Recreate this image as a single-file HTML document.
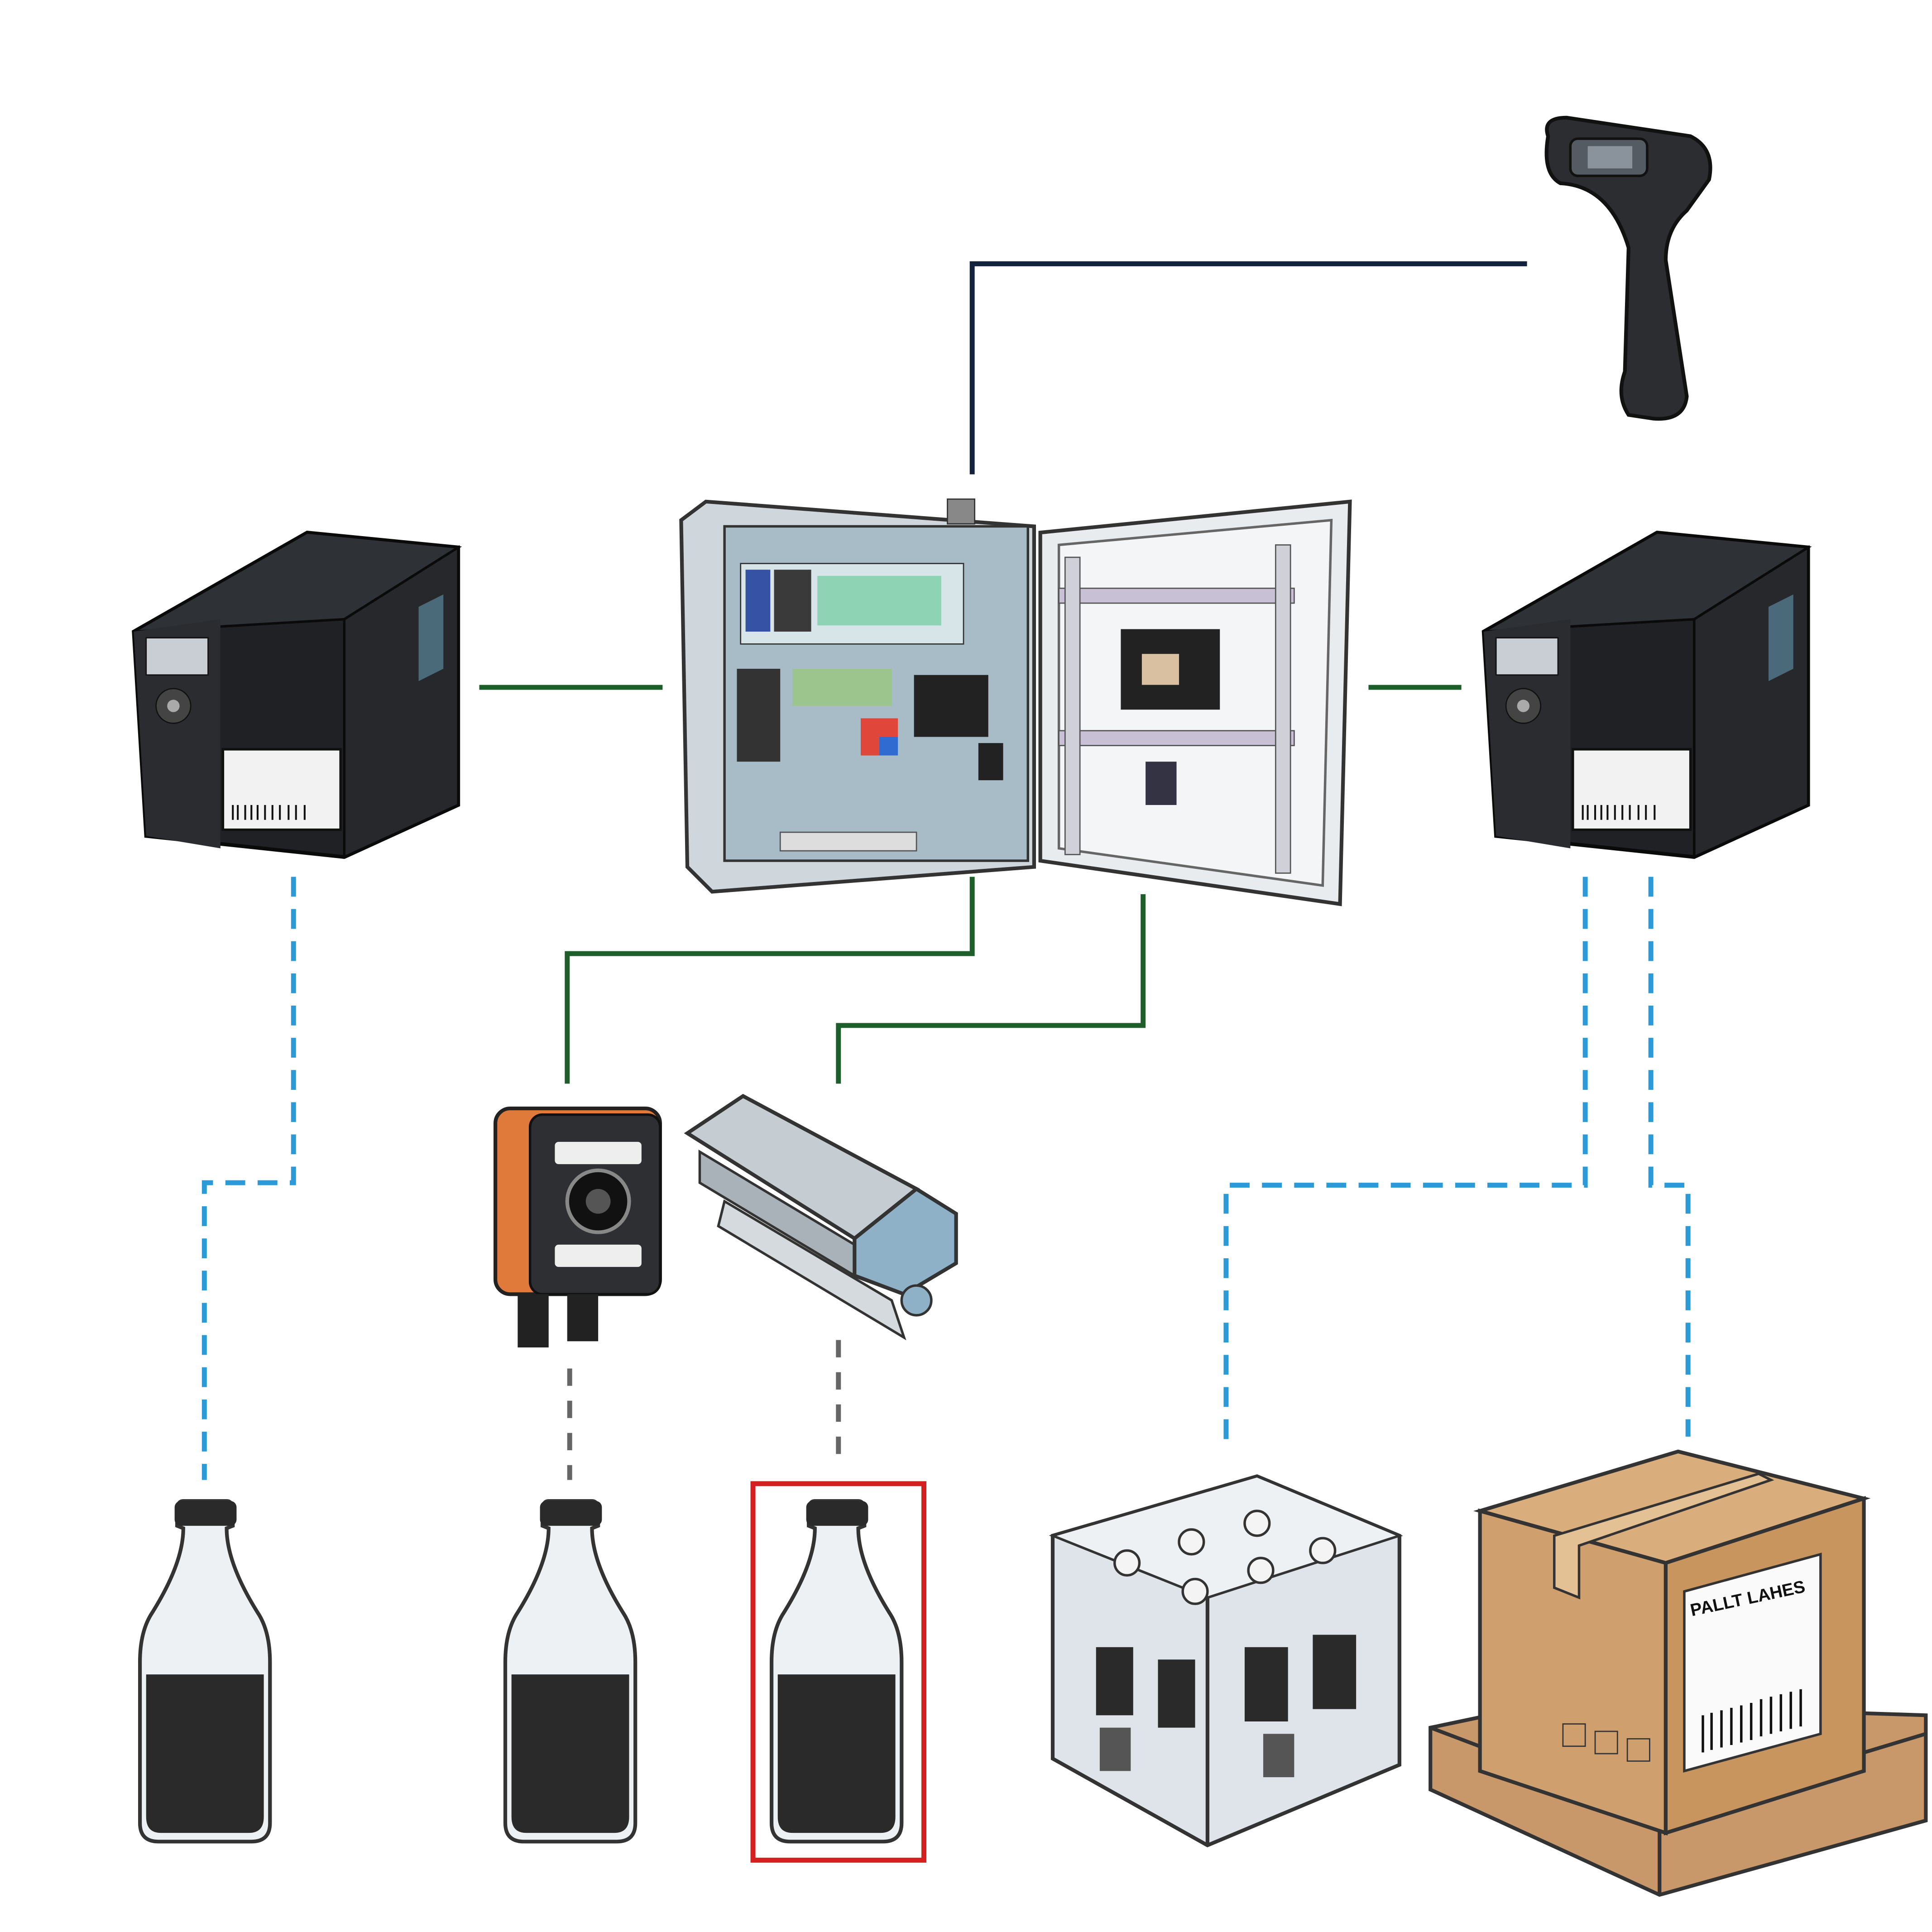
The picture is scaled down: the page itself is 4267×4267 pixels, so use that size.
<!DOCTYPE html>
<html><head><meta charset="utf-8"><style>
html,body{margin:0;padding:0;background:#fff;}
svg{display:block;}
</style></head><body>
<svg width="4267" height="4267" viewBox="0 0 1560 1560" xmlns="http://www.w3.org/2000/svg" font-family="Liberation Sans, sans-serif">
<rect width="1560" height="1560" fill="#fff"/>

<!-- connectors -->
<polyline points="785,383 785,213 1233,213" fill="none" stroke="#13233d" stroke-width="4"/>
<line x1="387" y1="555" x2="535" y2="555" stroke="#1d5e2a" stroke-width="4"/>
<line x1="1105" y1="555" x2="1180" y2="555" stroke="#1d5e2a" stroke-width="4"/>
<polyline points="785,708 785,770 458,770 458,875" fill="none" stroke="#1d5e2a" stroke-width="4"/>
<polyline points="923,722 923,828 677,828 677,875" fill="none" stroke="#1d5e2a" stroke-width="4"/>
<g fill="none" stroke="#2b9ad6" stroke-width="4" stroke-dasharray="16,10">
<polyline points="237,708 237,955 165,955 165,1195"/>
<polyline points="1280,708 1280,957 990,957 990,1165"/>
<polyline points="1333,708 1333,957 1363,957 1363,1160"/>
</g>
<g fill="none" stroke="#666" stroke-width="4" stroke-dasharray="14,12">
<line x1="460" y1="1105" x2="460" y2="1195"/>
<line x1="677" y1="1082" x2="677" y2="1185"/>
</g>

<!-- scanner -->
<g>
<path d="M1250,110 Q1245,95 1265,95 L1365,110 Q1385,120 1380,145 L1362,170 Q1345,185 1345,210 L1362,320 Q1360,340 1335,338 L1315,335 Q1305,320 1312,300 L1315,200 Q1300,150 1260,148 Q1245,140 1250,110 Z" fill="#2b2d31" stroke="#111" stroke-width="3"/>
<rect x="1268" y="112" width="62" height="30" rx="6" fill="#555b63" stroke="#111" stroke-width="2"/>
<rect x="1282" y="118" width="36" height="18" fill="#8a929b"/>
</g>

<!-- printer template -->
<defs>
<g id="printer">
<path d="M0,80 L140,0 L262,12 L262,220 L170,262 L10,245 Z" fill="#1f2124" stroke="#0a0a0a" stroke-width="3"/>
<path d="M0,80 L140,0 L262,12 L170,70 Z" fill="#2e3136" stroke="#0a0a0a" stroke-width="2"/>
<path d="M170,70 L262,12 L262,220 L170,262 Z" fill="#26282c" stroke="#0a0a0a" stroke-width="2"/>
<path d="M0,80 L70,70 L70,255 L10,245 Z" fill="#2a2c30"/>
<rect x="10" y="85" width="50" height="30" fill="#c8ced4" stroke="#111"/>
<circle cx="32" cy="140" r="14" fill="#444" stroke="#111"/>
<circle cx="32" cy="140" r="5" fill="#aaa"/>
<rect x="72" y="175" width="95" height="65" fill="#f2f2f2" stroke="#111" stroke-width="2"/>
<g stroke="#111" stroke-width="1.5"><line x1="80" y1="220" x2="80" y2="232"/><line x1="84" y1="220" x2="84" y2="232"/><line x1="90" y1="220" x2="90" y2="232"/><line x1="95" y1="220" x2="95" y2="232"/><line x1="100" y1="220" x2="100" y2="232"/><line x1="106" y1="220" x2="106" y2="232"/><line x1="112" y1="220" x2="112" y2="232"/><line x1="118" y1="220" x2="118" y2="232"/><line x1="125" y1="220" x2="125" y2="232"/><line x1="131" y1="220" x2="131" y2="232"/><line x1="138" y1="220" x2="138" y2="232"/></g>
<path d="M230,60 L250,50 L250,110 L230,120 Z" fill="#4a6a7a"/>
</g>
<g id="bottle">
<path d="M35,0 L70,0 Q75,0 75,8 L75,20 L70,22 Q70,50 95,90 Q105,105 105,130 L105,260 Q105,275 90,275 L15,275 Q0,275 0,260 L0,130 Q0,105 10,90 Q35,50 35,22 L30,20 L30,8 Q30,0 35,0 Z" fill="#eef1f3" stroke="#333" stroke-width="3"/>
<rect x="28" y="0" width="50" height="20" rx="5" fill="#2a2a2a"/>
<path d="M5,140 L100,140 L100,255 Q100,268 88,268 L17,268 Q5,268 5,255 Z" fill="#2a2a2a"/>
</g>
</defs>

<use href="#printer" x="108" y="430"/>
<use href="#printer" x="1198" y="430"/>

<!-- cabinet -->
<g>
<path d="M550,420 L570,405 L835,425 L835,700 L575,720 L555,700 Z" fill="#cfd6dc" stroke="#333" stroke-width="3"/>
<rect x="585" y="425" width="245" height="270" fill="#a8bcc8" stroke="#333" stroke-width="2"/>
<rect x="765" y="403" width="22" height="20" fill="#888" stroke="#333"/>
<rect x="598" y="455" width="180" height="65" fill="#d7e4e8" stroke="#333"/>
<rect x="602" y="460" width="20" height="50" fill="#3552a5"/>
<rect x="625" y="460" width="30" height="50" fill="#3a3a3a"/>
<rect x="660" y="465" width="100" height="40" fill="#8fd3b5"/>
<rect x="595" y="540" width="35" height="75" fill="#333"/>
<rect x="640" y="540" width="80" height="30" fill="#9bc58d"/>
<rect x="738" y="545" width="60" height="50" fill="#222"/>
<rect x="695" y="580" width="30" height="30" fill="#e0463a"/>
<rect x="710" y="595" width="15" height="15" fill="#2f6bd1"/>
<rect x="790" y="600" width="20" height="30" fill="#222"/>
<rect x="630" y="672" width="110" height="15" fill="#ddd" stroke="#555"/>
<path d="M840,430 L1090,405 L1082,730 L840,695 Z" fill="#e8ecef" stroke="#333" stroke-width="3"/>
<path d="M855,440 L1075,420 L1068,715 L855,685 Z" fill="#f3f5f6" stroke="#666" stroke-width="2"/>
<rect x="855" y="475" width="190" height="12" fill="#c8c0d4" stroke="#555"/>
<rect x="855" y="590" width="190" height="12" fill="#c8c0d4" stroke="#555"/>
<rect x="860" y="450" width="12" height="240" fill="#d0d0d8" stroke="#555"/>
<rect x="1030" y="440" width="12" height="265" fill="#d0d0d8" stroke="#555"/>
<rect x="905" y="508" width="80" height="65" fill="#222"/>
<rect x="922" y="528" width="30" height="25" fill="#d8c0a0"/>
<rect x="925" y="615" width="25" height="35" fill="#334"/>
</g>

<!-- camera -->
<g>
<rect x="400" y="895" width="133" height="150" rx="12" fill="#e07a3a" stroke="#222" stroke-width="3"/>
<rect x="428" y="900" width="105" height="145" rx="10" fill="#2d2f33" stroke="#111" stroke-width="2"/>
<rect x="448" y="922" width="70" height="18" rx="3" fill="#eee"/>
<rect x="448" y="1005" width="70" height="18" rx="3" fill="#eee"/>
<circle cx="483" cy="970" r="25" fill="#111" stroke="#888" stroke-width="3"/>
<circle cx="483" cy="970" r="10" fill="#555"/>
<rect x="418" y="1045" width="25" height="43" fill="#222"/>
<rect x="458" y="1045" width="25" height="38" fill="#222"/>
</g>

<!-- light module -->
<g>
<path d="M555,915 L600,885 L740,960 L690,1000 Z" fill="#c5cdd3" stroke="#333" stroke-width="3"/>
<path d="M565,930 L690,1005 L690,1030 L565,955 Z" fill="#a9b2b8" stroke="#333" stroke-width="2"/>
<path d="M690,1000 L740,960 L772,980 L772,1020 L730,1045 L690,1030 Z" fill="#8fb1c8" stroke="#333" stroke-width="3"/>
<path d="M585,970 L720,1050 L730,1080 L580,990 Z" fill="#d5dade" stroke="#333" stroke-width="2"/>
<circle cx="740" cy="1050" r="12" fill="#8fb1c8" stroke="#333" stroke-width="2"/>
</g>

<!-- bottles -->
<use href="#bottle" x="113" y="1212"/>
<use href="#bottle" x="408" y="1212"/>
<use href="#bottle" x="623" y="1212"/>
<rect x="608" y="1198" width="138" height="304" fill="none" stroke="#d42020" stroke-width="4"/>

<!-- crate -->
<g>
<path d="M850,1240 L1015,1192 L1130,1240 L1130,1425 L975,1490 L850,1420 Z" fill="#dfe4ea" stroke="#333" stroke-width="3"/>
<path d="M850,1240 L1015,1192 L1130,1240 L975,1290 Z" fill="#eef1f4" stroke="#333" stroke-width="2"/>
<line x1="975" y1="1290" x2="975" y2="1490" stroke="#333" stroke-width="3"/>
<g fill="#2a2a2a">
<rect x="885" y="1330" width="30" height="55"/><rect x="935" y="1340" width="30" height="55"/>
<rect x="1005" y="1330" width="35" height="60"/><rect x="1060" y="1320" width="35" height="60"/>
<rect x="888" y="1395" width="25" height="35" fill="#555"/><rect x="1020" y="1400" width="25" height="35" fill="#555"/>
</g>
<g fill="#f4f4f4" stroke="#333" stroke-width="2">
<circle cx="910" cy="1262" r="10"/><circle cx="962" cy="1245" r="10"/><circle cx="1015" cy="1230" r="10"/>
<circle cx="965" cy="1285" r="10"/><circle cx="1018" cy="1268" r="10"/><circle cx="1068" cy="1252" r="10"/>
</g>
</g>

<!-- pallet box -->
<g>
<path d="M1155,1395 L1250,1375 L1555,1385 L1555,1470 L1340,1530 L1155,1445 Z" fill="#c9986a" stroke="#333" stroke-width="3"/>
<path d="M1155,1395 L1340,1465 L1555,1400" fill="none" stroke="#333" stroke-width="3"/>
<line x1="1340" y1="1465" x2="1340" y2="1530" stroke="#333" stroke-width="3"/>
<path d="M1195,1220 L1355,1172 L1505,1210 L1345,1262 Z" fill="#d9ae7c" stroke="#333" stroke-width="3"/>
<path d="M1195,1220 L1345,1262 L1345,1480 L1195,1430 Z" fill="#cf9f6d" stroke="#333" stroke-width="3"/>
<path d="M1345,1262 L1505,1210 L1505,1430 L1345,1480 Z" fill="#c8955f" stroke="#333" stroke-width="3"/>
<path d="M1255,1240 L1420,1190 L1430,1195 L1275,1248 L1275,1290 L1255,1282 Z" fill="#e4c194" stroke="#333" stroke-width="2"/>
<path d="M1360,1285 L1470,1255 L1470,1400 L1360,1430 Z" fill="#fafafa" stroke="#333" stroke-width="2"/>
<text x="1366" y="1305" font-size="14" font-weight="bold" fill="#111" transform="rotate(-12 1366 1305)">PALLT LAHES</text>
<g stroke="#111" stroke-width="2"><line x1="1375" y1="1385" x2="1375" y2="1415"/><line x1="1382" y1="1383" x2="1382" y2="1413"/><line x1="1390" y1="1381" x2="1390" y2="1411"/><line x1="1398" y1="1379" x2="1398" y2="1409"/><line x1="1406" y1="1377" x2="1406" y2="1407"/><line x1="1414" y1="1375" x2="1414" y2="1405"/><line x1="1422" y1="1372" x2="1422" y2="1402"/><line x1="1430" y1="1370" x2="1430" y2="1400"/><line x1="1438" y1="1368" x2="1438" y2="1398"/><line x1="1446" y1="1366" x2="1446" y2="1396"/><line x1="1454" y1="1364" x2="1454" y2="1394"/></g>
<rect x="1262" y="1392" width="18" height="18" fill="none" stroke="#333"/><rect x="1288" y="1398" width="18" height="18" fill="none" stroke="#333"/><rect x="1314" y="1404" width="18" height="18" fill="none" stroke="#333"/>
</g>
</svg>
</body></html>
